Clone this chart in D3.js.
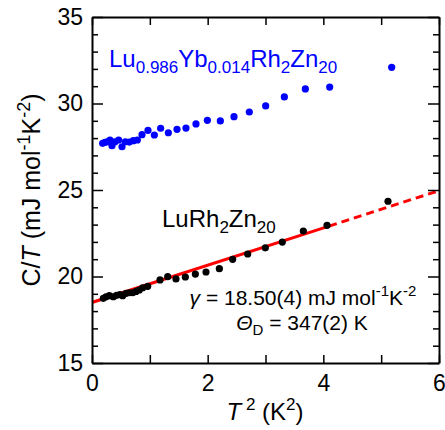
<!DOCTYPE html>
<html>
<head>
<meta charset="utf-8">
<script src="https://cdn.jsdelivr.net/npm/d3@7"></script>
<style>
  body { margin: 0; background: #fff; }
  text { font-family: "Liberation Sans", Arial, sans-serif; }
</style>
</head>
<body>
<script>
// LuRh2Zn20 (black)
const luT2 = [0.196, 0.242, 0.30, 0.369, 0.426, 0.484, 0.53, 0.588, 0.645, 0.703, 0.761, 0.818, 0.876, 0.963,
  1.176, 1.309, 1.452, 1.614, 1.787, 1.971, 2.202, 2.432, 2.692, 2.997, 3.291, 3.654, 4.064, 5.118];
const luCT = [18.74, 18.83, 18.89, 18.83, 18.91, 18.95, 18.89, 19.03, 19.06, 19.06, 19.14, 19.22, 19.35, 19.43,
  19.80, 19.99, 19.86, 19.97, 20.14, 20.26, 20.45, 20.99, 21.30, 21.66, 21.99, 22.63, 22.96, 24.35];

// Lu0.986Yb0.014Rh2Zn20 (blue)
const ybT2 = [0.184, 0.225, 0.265, 0.311, 0.346, 0.398, 0.461, 0.519, 0.576, 0.645, 0.715, 0.784, 0.865, 0.968,
  1.078, 1.187, 1.32, 1.47, 1.625, 1.798, 1.995, 2.219, 2.455, 2.72, 3.003, 3.326, 3.689, 4.11, 5.182];
const ybCT = [27.70, 27.76, 27.79, 27.89, 27.56, 27.79, 27.89, 27.50, 27.79, 27.77, 27.85, 27.89, 28.20, 28.45,
  28.18, 28.57, 28.31, 28.51, 28.58, 28.82, 29.03, 28.99, 29.24, 29.51, 29.86, 30.38, 30.84, 30.95, 32.09];

// linear fit C/T = gamma + beta*T^2 : solid over fitted range, dashed beyond
const fitGamma = 18.50;
const fitBeta = 1.077;
const fitSolid = [0, 4.1];
const fitDashed = [4.1, 6];

const xTicks = [0, 1, 2, 3, 4, 5, 6];
const yMajor = [15, 20, 25, 30, 35];
const yMinor = d3.range(15, 36, 1);

const width = 445, height = 430;
const margin = { top: 17, right: 6, bottom: 67, left: 92 };

const svg = d3.select("body").append("svg")
  .attr("width", width)
  .attr("height", height);

const x = d3.scaleLinear().domain([0, 6]).range([margin.left, width - margin.right]);
const y = d3.scaleLinear().domain([15, 35]).range([height - margin.bottom, margin.top]);

const plotW = width - margin.left - margin.right;
const plotH = height - margin.top - margin.bottom;

// clip for fit line
svg.append("clipPath").attr("id", "clip")
  .append("rect")
  .attr("x", margin.left).attr("y", margin.top)
  .attr("width", plotW).attr("height", plotH);

// fit line
const fitLine = d3.line()
  .x(d => x(d))
  .y(d => y(fitGamma + fitBeta * d));

svg.append("path")
  .attr("clip-path", "url(#clip)")
  .attr("d", fitLine(fitSolid))
  .attr("fill", "none")
  .attr("stroke", "#ff0000")
  .attr("stroke-width", 3);

svg.append("path")
  .attr("clip-path", "url(#clip)")
  .attr("d", fitLine(fitDashed))
  .attr("fill", "none")
  .attr("stroke", "#ff0000")
  .attr("stroke-width", 3)
  .attr("stroke-dasharray", "8,5");

// points
svg.append("g").selectAll("circle")
  .data(d3.zip(luT2, luCT))
  .enter().append("circle")
  .attr("cx", d => x(d[0]))
  .attr("cy", d => y(d[1]))
  .attr("r", 3.6)
  .attr("fill", "#000");

svg.append("g").selectAll("circle")
  .data(d3.zip(ybT2, ybCT))
  .enter().append("circle")
  .attr("cx", d => x(d[0]))
  .attr("cy", d => y(d[1]))
  .attr("r", 3.6)
  .attr("fill", "#0000ff");

// axes (ticks pointing inward on all four sides)
function styleAxis(g) {
  g.select(".domain").attr("stroke-width", 2);
  g.selectAll(".tick line").attr("stroke-width", 1.5);
  g.selectAll(".tick text")
    .attr("font-size", 23)
    .attr("font-family", "Liberation Sans, Arial, sans-serif")
    .attr("fill", "#000");
}

const xFmt = d => (d % 2 === 0 ? d : "");

svg.append("g")
  .attr("transform", `translate(0,${height - margin.bottom})`)
  .call(d3.axisBottom(x).tickValues(xTicks).tickSizeInner(-8).tickSizeOuter(0).tickPadding(12).tickFormat(xFmt))
  .call(styleAxis);

svg.append("g")
  .attr("transform", `translate(0,${margin.top})`)
  .call(d3.axisTop(x).tickValues(xTicks).tickSizeInner(-8).tickSizeOuter(0).tickFormat(""))
  .call(styleAxis);

// y minor ticks
svg.append("g")
  .attr("transform", `translate(${margin.left},0)`)
  .call(d3.axisLeft(y).tickValues(yMinor.filter(v => v % 5 !== 0)).tickSizeInner(-6).tickSizeOuter(0).tickFormat(""))
  .call(g => g.select(".domain").remove())
  .call(styleAxis);
svg.append("g")
  .attr("transform", `translate(${width - margin.right},0)`)
  .call(d3.axisRight(y).tickValues(yMinor.filter(v => v % 5 !== 0)).tickSizeInner(-6).tickSizeOuter(0).tickFormat(""))
  .call(g => g.select(".domain").remove())
  .call(styleAxis);

// y major ticks
svg.append("g")
  .attr("transform", `translate(${margin.left},0)`)
  .call(d3.axisLeft(y).tickValues(yMajor).tickSizeInner(-11).tickSizeOuter(0).tickPadding(9))
  .call(styleAxis);
svg.append("g")
  .attr("transform", `translate(${width - margin.right},0)`)
  .call(d3.axisRight(y).tickValues(yMajor).tickSizeInner(-11).tickSizeOuter(0).tickFormat(""))
  .call(styleAxis);

// helper: text with sub/superscripts; parts = [[text, mode, italic]]
function richText(sel, parts, size) {
  const small = Math.round(size * 0.7);
  const down = size * 0.25, up = size * 0.42;
  let prev = "n";
  parts.forEach(([t, mode, it]) => {
    const sp = sel.append("tspan").text(t);
    let shift = 0;
    if (prev === "n" && mode === "sub") shift = down;
    else if (prev === "n" && mode === "sup") shift = -up;
    else if (prev === "sub" && mode === "n") shift = -down;
    else if (prev === "sup" && mode === "n") shift = up;
    if (shift) sp.attr("dy", shift);
    sp.attr("font-size", mode === "n" ? size : small);
    if (it) sp.attr("font-style", "italic");
    prev = mode;
  });
}

// sample labels
richText(svg.append("text").attr("x", 109).attr("y", 67).attr("fill", "#0000ff"),
  [["Lu", "n"], ["0.986", "sub"], ["Yb", "n"], ["0.014", "sub"], ["Rh", "n"], ["2", "sub"], ["Zn", "n"], ["20", "sub"]], 24);

richText(svg.append("text").attr("x", 162).attr("y", 227).attr("fill", "#000"),
  [["LuRh", "n"], ["2", "sub"], ["Zn", "n"], ["20", "sub"]], 24);

// fit parameters
richText(svg.append("text").attr("x", 303).attr("y", 305).attr("text-anchor", "middle"),
  [["γ", "n", true], [" = 18.50(4) mJ mol", "n"], ["-1", "sup"], ["K", "n"], ["-2", "sup"]], 21);

richText(svg.append("text").attr("x", 302).attr("y", 330).attr("text-anchor", "middle"),
  [["Θ", "n", true], ["D", "sub"], [" = 347(2) K", "n"]], 21);

// axis titles
richText(svg.append("text").attr("x", 265).attr("y", 420).attr("text-anchor", "middle"),
  [["T", "n", true], [" 2", "sup"], [" (K", "n"], ["2", "sup"], [")", "n"]], 24);

richText(svg.append("text")
    .attr("transform", "translate(40,190) rotate(-90)")
    .attr("text-anchor", "middle"),
  [["C/", "n"], ["T", "n", true], [" (mJ mol", "n"], ["-1", "sup"], ["K", "n"], ["-2", "sup"], [")", "n"]], 25);
</script>
</body>
</html>
